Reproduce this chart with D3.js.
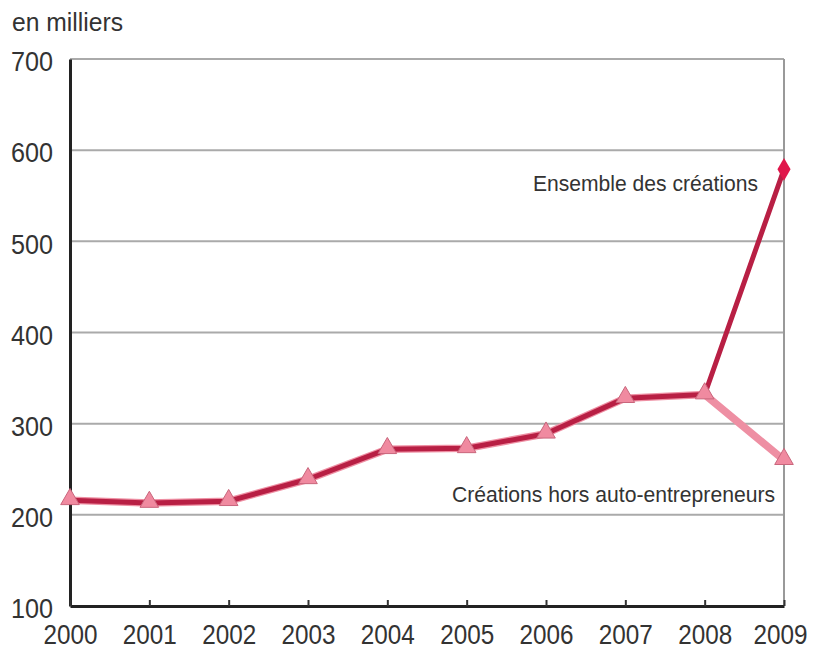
<!DOCTYPE html>
<html>
<head>
<meta charset="utf-8">
<script src="https://cdn.jsdelivr.net/npm/d3@7"></script>
<style>
  html, body { margin: 0; padding: 0; background: #fff; }
  svg text { font-family: "Liberation Sans", Arial, sans-serif; fill: #333; }
</style>
</head>
<body>
<svg id="chart" width="816" height="655"></svg>
<script>
const years = [2000, 2001, 2002, 2003, 2004, 2005, 2006, 2007, 2008, 2009];
const ensemble = [216, 213, 215, 239, 272, 273, 289, 328, 332, 579];
const horsAE = [216, 213, 215, 239, 272, 273, 289, 328, 332, 260];
const yTicks = [100, 200, 300, 400, 500, 600, 700];
const unitLabel = "en milliers";
const labelEnsemble = "Ensemble des créations";
const labelHors = "Créations hors auto-entrepreneurs";

const svg = d3.select("#chart");
const x = d3.scaleLinear().domain([2000, 2009]).range([70, 784]);
const y = d3.scaleLinear().domain([100, 700]).range([606, 59]);

// gridlines
svg.append("g").selectAll("line").data(yTicks.filter(d => d > 100)).join("line")
  .attr("x1", x(2000)).attr("x2", x(2009))
  .attr("y1", d => y(d)).attr("y2", d => y(d))
  .attr("stroke", "#aaa").attr("stroke-width", 2);
// right border
svg.append("line").attr("x1", x(2009)).attr("x2", x(2009))
  .attr("y1", y(700)).attr("y2", y(100)).attr("stroke", "#999").attr("stroke-width", 2);

// axes
const yAxis = d3.axisLeft(y).tickValues(yTicks).tickSize(0).tickPadding(17);
const gy = svg.append("g").attr("transform", `translate(${x(2000)},0)`).call(yAxis);
gy.select(".domain").attr("stroke", "#222").attr("stroke-width", 3);
gy.selectAll("text").attr("font-size", 28).attr("dy", "0.42em")
  .attr("textLength", 42).attr("lengthAdjust", "spacingAndGlyphs").style("fill", "#333");

const xAxis = d3.axisBottom(x).tickValues(years).tickFormat(d3.format("d")).tickSizeInner(-6).tickSizeOuter(0).tickPadding(24);
const gx = svg.append("g").attr("transform", `translate(0,${y(100)})`).call(xAxis);
gx.select(".domain").attr("stroke", "#222").attr("stroke-width", 3);
gx.selectAll(".tick line").attr("stroke", "#333").attr("stroke-width", 2);
gx.selectAll("text").attr("font-size", 28).attr("dy", "0.5em")
  .attr("textLength", 54).attr("lengthAdjust", "spacingAndGlyphs").style("fill", "#333")
  .attr("dx", d => d === years[years.length - 1] ? -4 : 0);

// lines
const line = d3.line().x((d, i) => x(years[i])).y(d => y(d));
svg.append("path").datum(horsAE).attr("d", line).attr("fill", "none")
  .attr("stroke", "#ee8fa3").attr("stroke-width", 7.5).attr("stroke-linejoin", "round");
svg.append("path").datum(ensemble).attr("d", line).attr("fill", "none")
  .attr("stroke", "#b81f44").attr("stroke-width", 5).attr("stroke-linejoin", "round");

// triangle markers (hors auto-entrepreneurs)
const tri = d3.symbol().type(d3.symbolTriangle).size(150);
svg.append("g").selectAll("path").data(horsAE).join("path")
  .attr("d", tri)
  .attr("transform", (d, i) => `translate(${x(years[i])},${y(d) - 1})`)
  .attr("fill", "#f08aa0").attr("stroke", "#c9667c").attr("stroke-width", 1);

// diamond marker (ensemble, last point)
const dia = d3.symbol().type(d3.symbolDiamond).size(150);
const lastIdx = ensemble.length - 1;
svg.append("path").attr("d", dia)
  .attr("transform", `translate(${x(years[lastIdx])},${y(ensemble[lastIdx])})`)
  .attr("fill", "#e0174b");

// labels
svg.append("text").attr("x", 12).attr("y", 31).attr("font-size", 25)
  .attr("textLength", 111).attr("lengthAdjust", "spacingAndGlyphs").text(unitLabel);
svg.append("text").attr("x", 533).attr("y", 191)
  .attr("font-size", 22).attr("textLength", 225).attr("lengthAdjust", "spacingAndGlyphs").text(labelEnsemble);
svg.append("text").attr("x", 452).attr("y", 502)
  .attr("font-size", 22).attr("textLength", 323).attr("lengthAdjust", "spacingAndGlyphs").text(labelHors);
</script>
</body>
</html>
